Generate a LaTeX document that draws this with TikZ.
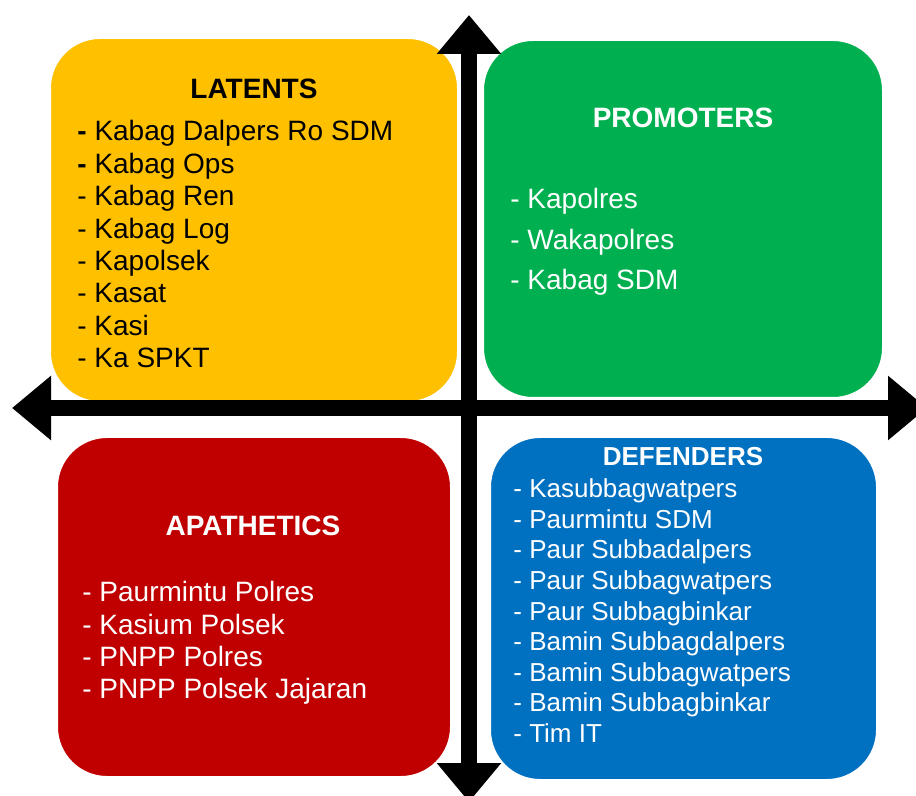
\documentclass[tikz,border=0pt]{standalone}
\usepackage{fontspec}
\setmainfont{Liberation Sans}
\usetikzlibrary{arrows.meta}
\definecolor{latent}{RGB}{255,192,0}
\definecolor{promot}{RGB}{0,176,80}
\definecolor{apath}{RGB}{192,0,0}
\definecolor{defend}{RGB}{0,112,192}
\tikzset{
  quad/.style={draw=white, line width=1pt, rounded corners=25pt, inner sep=0pt},
  titre/.style={font=\fontsize{14}{16}\selectfont\bfseries, anchor=base, inner sep=0pt},
  item/.style={font=\fontsize{14}{16}\selectfont, anchor=base west, inner sep=0pt},
  axe/.style={line width=8pt, {Triangle[length=19.5pt,width=31pt]}-{Triangle[length=19.5pt,width=31pt]}}
}
\begin{document}
\begin{tikzpicture}[x=0.5pt,y=-0.5pt]
\useasboundingbox (0,0) rectangle (916,796);
\clip (0,0) rectangle (916,796);

% the four quadrants
\node[quad, fill=latent, minimum width=204pt, minimum height=182pt] (latents) at (254,220) {};
\node[quad, fill=promot, minimum width=200pt, minimum height=179pt] (promoters) at (683,219) {};
\node[quad, fill=apath, minimum width=197pt, minimum height=170pt] (apathetics) at (254,607) {};
\node[quad, fill=defend, minimum width=193.5pt, minimum height=171.5pt] (defenders) at (683.5,608.5) {};

% axes
\coordinate (west) at (12,408);
\coordinate (east) at (927,408);
\coordinate (north) at (469,15);
\coordinate (south) at (469,802);
\draw [axe] (west)--(east);
\draw [axe] (north)--(south);

\node[titre] (tlat) at (254,99) {LATENTS};
\foreach \t [count=\i] in {\textbf{-} Kabag Dalpers Ro SDM, \textbf{-} Kabag Ops, - Kabag Ren, - Kabag Log, - Kapolsek, - Kasat, - Kasi, - Ka SPKT}
  \node[item] (lat\i) at (77,{141+(\i-1)*32.4}) {\t};

\node[titre, white] (tpro) at (683,128) {PROMOTERS};
\foreach \t [count=\i] in {Kapolres, Wakapolres, Kabag SDM}
  \node[item, white] (pro\i) at (510,{209+(\i-1)*40.5}) {- \t};

\node[titre, white] (tapa) at (253,536) {APATHETICS};
\foreach \t [count=\i] in {Paurmintu Polres, Kasium Polsek, PNPP Polres, PNPP Polsek Jajaran}
  \node[item, white] (apa\i) at (82,{602+(\i-1)*32.3}) {- \t};

\node[titre, white, font=\fontsize{13}{15}\selectfont\bfseries] (tdef) at (683,466) {DEFENDERS};
\foreach \t [count=\i] in {Kasubbagwatpers, Paurmintu SDM, Paur Subbadalpers, Paur Subbagwatpers, Paur Subbagbinkar, Bamin Subbagdalpers, Bamin Subbagwatpers, Bamin Subbagbinkar, Tim IT}
  \node[item, white, font=\fontsize{13}{15}\selectfont] (def\i) at (513,{498+(\i-1)*30.5}) {- \t};

\end{tikzpicture}
\end{document}
